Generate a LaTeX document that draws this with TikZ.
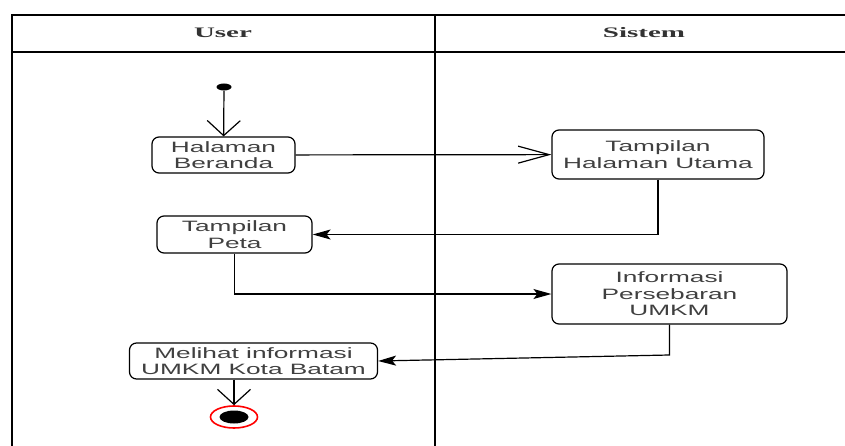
\documentclass[tikz,border=0pt]{standalone}
\usepackage{fontspec}
\setmainfont[FakeStretch=2.0]{Liberation Serif}
\newfontfamily\boxfont[FakeStretch=1.75]{Liberation Sans}
\usepackage{tikz}
\usetikzlibrary{arrows.meta,shapes.geometric}

\begin{document}
\begin{tikzpicture}[x=1pt,y=-1pt]
		\useasboundingbox (0,0) rectangle (845,446);

		% swimlanes
		\begin{scope}[line width=1.6pt]
			\draw (845,15) -- (12,15) -- (12,446);
			\draw (12,52) -- (845,52);
			\draw (435,15) -- (435,446);
		\end{scope}
		\begin{scope}[every node/.style={font=\fontsize{14.5}{16}\selectfont\bfseries,text=black!80}]
			\node (user) at (223,33) {User};
			\node (sistem) at (644,33) {Sistem};
		\end{scope}

		\begin{scope}[every node/.style={rectangle,rounded corners=7pt,draw,line width=1.2pt,
					align=center,inner sep=0pt,text=black!75,
					font=\boxfont\fontsize{15}{16.5}\selectfont}]
			\node[minimum width=143pt,minimum height=36pt] (beranda) at (223.5,155) {Halaman\\Beranda};
			\node[minimum width=212pt,minimum height=49pt] (utama) at (658,154.5) {Tampilan\\Halaman Utama};
			\node[minimum width=155pt,minimum height=37pt] (peta) at (234.5,234.5) {Tampilan\\Peta};
			\node[minimum width=235pt,minimum height=60pt] (sebaran) at (669.5,294) {Informasi\\Persebaran\\UMKM};
			\node[minimum width=248pt,minimum height=36pt] (melihat) at (253.5,361) {Melihat informasi\\UMKM Kota Batam};
		\end{scope}

		\node[ellipse,fill=black,inner sep=0pt,minimum width=15pt,minimum height=7pt] (start) at (224,87) {};
		\node[ellipse,draw=red,line width=1.6pt,inner sep=0pt,minimum width=47pt,minimum height=22pt] (stop) at (234,417) {};
		\node[ellipse,fill=black,inner sep=0pt,minimum width=29pt,minimum height=13pt] (stopdot) at (stop) {};
		\coordinate (bend) at (669.5,355);

		\begin{scope}[line width=1.2pt,
					openv/.style={-{Straight Barb[length=15pt,width=33pt]}},
					openh/.style={-{Straight Barb[length=31pt,width=17pt]}},
					fillh/.style={-{Stealth[length=18pt,width=10pt,inset=4pt]}}]
			\draw [openv] (start) -- (beranda);
			\draw [openh] (beranda) -- (utama);
			\draw [fillh] (utama.south) |- (peta.east);
			\draw [fillh] (peta.south) |- (sebaran.west);
			\draw [fillh] (sebaran.south) -- (bend) -- (melihat.east);
			\draw [openv] (stop |- melihat.south) -- (stop);
		\end{scope}
	\end{tikzpicture}
\end{document}
